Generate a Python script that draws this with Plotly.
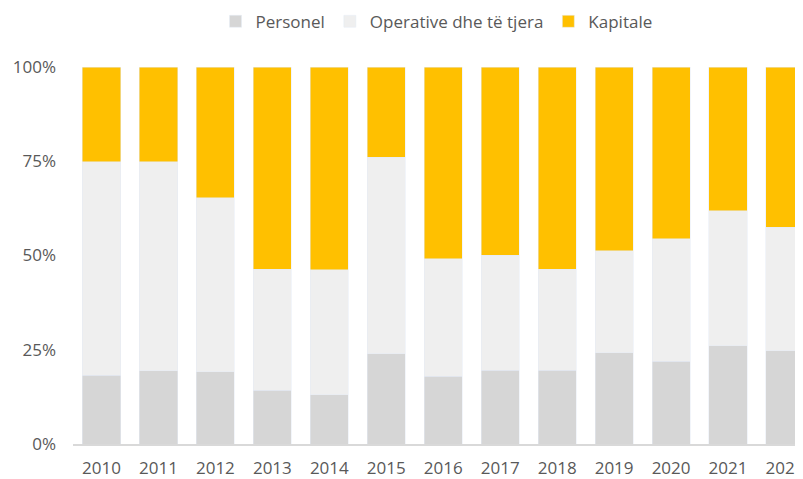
import plotly.graph_objects as go

years = ["2010", "2011", "2012", "2013", "2014", "2015", "2016",
         "2017", "2018", "2019", "2020", "2021", "2022"]
personel = [18.3, 19.4, 19.1, 14.3, 13.0, 23.9, 18.0, 19.6, 19.6, 24.2, 22.0, 26.1, 24.7]
operative = [56.6, 55.5, 46.2, 32.1, 33.2, 52.1, 31.2, 30.5, 26.8, 27.0, 32.4, 35.8, 32.8]
kapitale = [25.1, 25.1, 34.7, 53.6, 53.8, 24.0, 50.8, 49.9, 53.6, 48.8, 45.6, 38.1, 42.5]
y_ticks = [0, 25, 50, 75, 100]
y_tick_labels = ["0%", "25%", "50%", "75%", "100%"]

FONT = "Open Sans"
GREY = "#595959"

fig = go.Figure()
fig.add_bar(x=years, y=personel, name="Personel", marker_color="#d6d6d6")
fig.add_bar(x=years, y=operative, name="Operative dhe të tjera", marker_color="#efefef")
fig.add_bar(x=years, y=kapitale, name="Kapitale", marker_color="#ffc000")

fig.update_layout(
    barmode="stack",
    bargap=0.33,
    width=795, height=471,
    margin=dict(l=65, r=0, t=59, b=35, autoexpand=False),
    plot_bgcolor="white", paper_bgcolor="white",
    font=dict(family=FONT, size=17, color=GREY),
    showlegend=True,
    legend=dict(orientation="h", x=0.498, xanchor="center", y=1.12, yref="paper",
                yanchor="middle", font=dict(size=17, color=GREY), traceorder="normal",
                itemwidth=30, bgcolor="rgba(0,0,0,0)"),
    xaxis=dict(type="category", range=[-0.5, 12.316], showline=True, linecolor="#d9d9d9",
               linewidth=2, showgrid=False, ticks="", ticklabelstandoff=8,
               tickfont=dict(size=17, color=GREY)),
    yaxis=dict(range=[0, 100], tickmode="array", tickvals=y_ticks, ticktext=y_tick_labels,
               showgrid=False, zeroline=False, showline=False, ticks="", ticklabelstandoff=16,
               tickfont=dict(size=17, color=GREY)),
)

fig.write_html("out.html")
